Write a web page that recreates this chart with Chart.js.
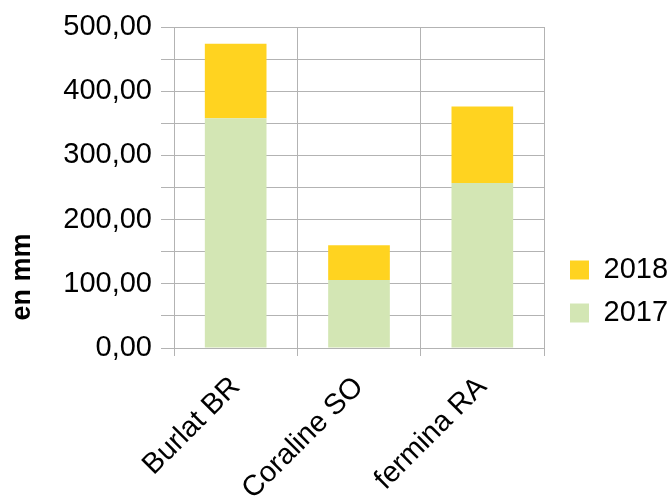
<!DOCTYPE html>
<html>
<head>
<meta charset="utf-8">
<script src="https://cdn.jsdelivr.net/npm/chart.js@4"></script>
<style>
  html, body { margin: 0; padding: 0; background: #fff; }
  #wrap { width: 667px; height: 500px; }
</style>
</head>
<body>
<div id="wrap"><canvas id="chart"></canvas></div>
<script>
const categories = ["Burlat BR", "Coraline SO", "fermina RA"];
const values2017 = [358, 106, 257];
const values2018 = [116, 54, 119];
const yTicks = [0, 100, 200, 300, 400, 500];

// y axis title is drawn by hand so it can sit lower than the axis centre
const yTitle = {
  id: 'yTitle',
  afterDraw(chart) {
    const ctx = chart.ctx;
    ctx.save();
    ctx.translate(23, 277);
    ctx.rotate(-Math.PI / 2);
    ctx.font = 'bold 27px "Liberation Sans", Arial, sans-serif';
    ctx.fillStyle = '#000';
    ctx.textAlign = 'center';
    ctx.textBaseline = 'middle';
    ctx.fillText('en mm', 0, 0);
    ctx.restore();
  }
};

Chart.defaults.font.family = '"Liberation Sans", Arial, sans-serif';
Chart.defaults.color = '#000';

new Chart(document.getElementById('chart'), {
  type: 'bar',
  data: {
    labels: categories,
    datasets: [
      { label: '2017', data: values2017, backgroundColor: '#d3e6b4' },
      { label: '2018', data: values2018, backgroundColor: '#ffd320' }
    ]
  },
  options: {
    responsive: true,
    maintainAspectRatio: false,
    animation: false,
    layout: { padding: { top: 27, left: 0, right: 0, bottom: 0 } },
    datasets: { bar: { barPercentage: 0.5, categoryPercentage: 1.0 } },
    plugins: {
      tooltip: { enabled: false },
      legend: {
        position: 'right',
        reverse: true,
        maxWidth: 111,
        title: { display: true, text: ' ', font: { size: 12 }, padding: { top: 0, bottom: 41.6 } },
        labels: {
          boxWidth: 19,
          boxHeight: 19,
          padding: 14,
          font: { size: 29 }
        }
      }
    },
    scales: {
      x: {
        stacked: true,
        grid: { color: '#b3b3b3', tickLength: 8, offset: true },
        border: { color: '#b3b3b3' },
        ticks: { font: { size: 29 }, minRotation: 45, maxRotation: 45, padding: 14 },
        afterFit(s) { s.height = 152; }
      },
      y: {
        stacked: true,
        min: 0,
        max: 500,
        grid: { color: '#b3b3b3', tickLength: 13 },
        border: { color: '#b3b3b3' },
        ticks: {
          stepSize: 50,
          autoSkip: false,
          padding: 9,
          font: { size: 29 },
          callback: v => yTicks.includes(v) ? v.toFixed(2).replace('.', ',') : ''
        },
        afterFit(s) { s.width = 174; }
      },
      // empty right axis, only to leave a gap before the legend
      gap: {
        type: 'linear',
        position: 'right',
        display: true,
        grid: { display: false },
        border: { display: false },
        ticks: { display: false },
        afterFit(s) { s.width = 12; }
      }
    }
  },
  plugins: [yTitle]
});
</script>
</body>
</html>
